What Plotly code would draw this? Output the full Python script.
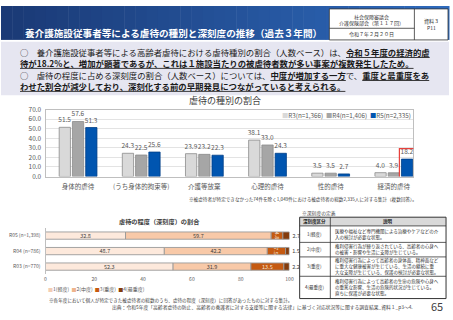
import plotly.graph_objects as go
import numpy as np

W, H = 453, 320
FONT = "Noto Sans CJK JP"

def X(p):
    return p / W

def Y(p):
    return 1 - p / H

# ---------------- data ----------------
categories = ["身体的虐待", "(うち身体的拘束等)", "介護等放棄", "心理的虐待", "性的虐待", "経済的虐待"]
series_names = ["R3(n=1,366)", "R4(n=1,406)", "R5(n=2,335)"]
r3 = [51.5, 24.3, 23.9, 38.1, 3.5, 4.0]
r4 = [57.6, 22.5, 23.2, 33.0, 3.5, 3.9]
r5 = [51.3, 25.6, 22.3, 24.3, 2.7, 18.2]

years = ["R05 (n=1,398)", "R04 (n=786)", "R03 (n=770)"]
sev_names = ["1(軽度)", "2(中度)", "3(重度)", "4(最重度)"]
sev1 = [32.8, 48.7, 52.3]
sev2 = [59.7, 42.2, 31.9]
sev3 = [4.8, 7.5, 13.5]
sev4 = [2.7, 1.5, 2.2]

sev_defs = [
    ("1(軽度)", ["医療や福祉など専門機関による治療やケアなどの介", "入の検討が必要な状態。"]),
    ("2(中度)", ["権利侵害行為が繰り返されている、高齢者の心身へ", "の被害・影響や生活に支障が生じている。"]),
    ("3(重度)", ["権利侵害行為によって高齢者の身体面、精神面など", "に重大な健康被害が生じている、生活の継続に重", "大な支障が生じている、保護の検討が必要な状態。"]),
    ("4(最重度)", ["権利侵害行為によって高齢者の生命の危険や心身へ", "の重篤な影響、生活の危険的状況が生じている。", "直ちに保護が必要な状態。"]),
]

# ---------------- styles ----------------
bar_colors = ["#d9d9d9", "#a6a6a6", "#0055b0"]
bar_lines = ["#8c8c8c", "#8c8c8c", "#003f86"]
sev_colors = ["#fde9dc", "#f8c9a8", "#c55a11", "#843c0c"]
sev_legend_colors = ["#f3cdb4", "#eeb48c", "#c55a11", "#843c0c"]
sev_text = ["#404040", "#404040", "#f6e3d6", "#404040"]
GRAY = "#595959"

fig = go.Figure()

for name, vals, c, lc in zip(series_names, [r3, r4, r5], bar_colors, bar_lines):
    fig.add_trace(go.Bar(
        x=categories, y=vals, name=name,
        marker=dict(color=c, line=dict(color=lc, width=0.8)),
        text=[f"{v:.1f}" for v in vals], textposition="outside",
        textfont=dict(size=6.5, color=GRAY, family=FONT),
        cliponaxis=False, constraintext="none",
        xaxis="x", yaxis="y", showlegend=False))

base = np.zeros(len(years))
for i, (name, vals) in enumerate(zip(sev_names, [sev1, sev2, sev3, sev4])):
    fig.add_trace(go.Bar(
        y=years, x=vals, base=base.copy(), orientation="h", name=name,
        offsetgroup="sev", width=0.47,
        marker=dict(color=sev_colors[i], line=dict(color="#9a9a9a", width=0.9)),
        text=[f"{v:.1f}" for v in vals],
        textposition="inside" if i < 3 else "outside",
        insidetextanchor="middle",
        textfont=dict(size=5.5, color=sev_text[i], family=FONT),
        cliponaxis=False, constraintext="none",
        xaxis="x2", yaxis="y2", showlegend=False))
    base = base + np.array(vals)

shapes = []
ann = []

# header gradient
n = 40
c0 = np.array([27, 58, 118])
c1 = np.array([46, 106, 188])
for k in range(n):
    t = k / (n - 1)
    c = (c0 + (c1 - c0) * t).astype(int)
    shapes.append(dict(type="rect", xref="paper", yref="paper",
                       x0=X(W * k / n), x1=X(W * (k + 1) / n + 0.5), y0=Y(35), y1=Y(0),
                       fillcolor=f"rgb({c[0]},{c[1]},{c[2]})", line=dict(width=0), layer="below"))
# lavender band
shapes.append(dict(type="rect", xref="paper", yref="paper", x0=0, x1=1, y0=Y(92), y1=Y(37),
                   fillcolor="#e6e6f1", line=dict(width=0), layer="below"))
# top right box
shapes.append(dict(type="rect", xref="paper", yref="paper", x0=X(332), x1=X(452), y0=Y(35), y1=Y(3),
                   fillcolor="white", line=dict(color="#333333", width=0.8)))
shapes.append(dict(type="line", xref="paper", yref="paper", x0=X(418), x1=X(418), y0=Y(35), y1=Y(3),
                   line=dict(color="#333333", width=0.8)))
shapes.append(dict(type="line", xref="paper", yref="paper", x0=X(332), x1=X(418), y0=Y(23), y1=Y(23),
                   line=dict(color="#333333", width=0.8)))

# table
rows = [218, 227, 244, 259, 279, 302]
cols = [302, 333, 450]
shapes.append(dict(type="rect", xref="paper", yref="paper", x0=X(cols[0]), x1=X(cols[2]),
                   y0=Y(rows[1]), y1=Y(rows[0]), fillcolor="#d9d9d9", line=dict(width=0)))
shapes.append(dict(type="rect", xref="paper", yref="paper", x0=X(cols[0]), x1=X(cols[2]),
                   y0=Y(rows[-1]), y1=Y(rows[0]), line=dict(color="#333333", width=1)))
for r in rows[1:-1]:
    shapes.append(dict(type="line", xref="paper", yref="paper", x0=X(cols[0]), x1=X(cols[2]),
                       y0=Y(r), y1=Y(r), line=dict(color="#333333", width=0.8)))
shapes.append(dict(type="line", xref="paper", yref="paper", x0=X(cols[1]), x1=X(cols[1]),
                   y0=Y(rows[-1]), y1=Y(rows[0]), line=dict(color="#333333", width=0.8)))

# red highlight box around R5 経済的虐待 (data coords)
bargap, bargroupgap = 0.37, 0.15
slot = (1 - bargap) / 3
ci = categories.index("経済的虐待")
cx = ci + slot
hw = slot * 0.58
shapes.append(dict(type="rect", xref="x", yref="y", x0=cx - hw, x1=cx + hw,
                   y0=-2, y1=r5[ci] + 11, line=dict(color="#e8413c", width=1.2)))

def A(x, y, text, size, color="#222222", xanchor="center", bold=False, **kw):
    if bold:
        text = f"<b>{text}</b>"
    ann.append(dict(x=X(x), y=Y(y), xref="paper", yref="paper", text=text, showarrow=False,
                    xanchor=xanchor, yanchor="middle",
                    font=dict(size=size, color=color, family=FONT), **kw))

# header texts
A(22, 28, "養介護施設従事者等による虐待の種別と深刻度の推移（過去３年間）", 9.6, "white", "left", bold=True)
A(375, 11.5, "社会保障審議会", 5, "#333333")
A(375, 17.5, "介護保険部会（第１１７回）", 5, "#333333")
A(375, 29, "令和７年２月２０日", 5, "#333333")
A(435, 15.5, "資料３", 5, "#333333")
A(435, 22, "P11", 5, "#333333")

# body text (two paragraphs, two lines each)
BS = 8.4
para1 = ("○　養介護施設従事者等による高齢者虐待における虐待種別の割合（人数ベース）は、<b><u>令和５年度の経済的虐</u></b><br>"
         "<b><u>待が18.2%と、増加が顕著であるが、これは１施設当たりの被虐待者数が多い事案が複数発生したため。</u></b>")
para2 = ("○　虐待の程度に占める深刻度の割合（人数ベース）については、<b><u>中度が増加する一方</u></b>で、<b><u>重度と最重度をあ</u></b><br>"
         "<b><u>わせた割合が減少しており、深刻化する前の早期発見につながっていると考えられる。</u></b>")
A(17, 53.5, para1, BS, "#1a1a1a", "left", align="left")
A(17, 76.5, para2, BS, "#1a1a1a", "left", align="left")

# chart 1 title / legend / note
A(226, 98, "虐待の種別の割合", 9, "#404040")
leg1 = "  ".join(f"<span style='color:{c}'>■</span>{nm}" for nm, c in zip(series_names, bar_colors))
A(417, 113, leg1, 6.3, GRAY, "right")
A(188, 200, "※被虐待者が特定できなかった74件を除く1,049件における被虐待者の総数2,335人に対する集計（複数回答）。", 4.6, "#404040", "left")

# chart 2 title / legend / notes
A(160, 222, "虐待の程度（深刻度）の割合", 6.2, "#404040", bold=True)
leg2 = "  ".join(f"<span style='color:{c}'>■</span>{nm}" for nm, c in zip(sev_names, sev_legend_colors))
A(45, 292, leg2, 5, GRAY, "left")
A(47, 304, "※各年度において個人が特定できた被虐待者の総数のうち、虐待の程度（深刻度）に回答があったものに対する集計。", 4.6, "#404040", "left")
A(110, 311, "出典：令和5年度「高齢者虐待の防止、高齢者の養護者に対する支援等に関する法律」に基づく対応状況等に関する調査結果_資料１_p3～4.", 4.8, "#404040", "left")
A(441, 310, "65", 11, "#404040")

# table texts
A(302, 214, "※深刻度の定義", 4.8, "#404040", "left")
A((cols[0] + cols[1]) / 2, (rows[0] + rows[1]) / 2, "深刻度区分", 4.5, "#222222", bold=True)
A((cols[1] + cols[2]) / 2, (rows[0] + rows[1]) / 2, "説明", 4.5, "#222222", bold=True)
for i, (lab, lines) in enumerate(sev_defs):
    yc = (rows[i + 1] + rows[i + 2]) / 2
    A((cols[0] + cols[1]) / 2, yc, lab, 4.5, "#333333")
    A(cols[1] + 3, yc, "<br>".join(lines), 4.5, "#333333", "left", align="left")

fig.update_layout(
    width=W, height=H, margin=dict(l=0, r=0, t=0, b=0),
    paper_bgcolor="white", plot_bgcolor="white",
    barmode="group", bargap=bargap, bargroupgap=bargroupgap,
    showlegend=False, font=dict(family=FONT, color=GRAY),
    shapes=shapes, annotations=ann,
    xaxis=dict(domain=[X(46), X(417)], anchor="y", type="category",
               range=[-0.5, 5.31], showline=True, mirror=True, linecolor="#bfbfbf",
               linewidth=1, ticks="", tickfont=dict(size=6.5, color=GRAY),
               ticklabelstandoff=4, showgrid=False, fixedrange=True),
    yaxis=dict(domain=[Y(176), Y(107)], anchor="x", range=[0, 70], dtick=10,
               tickformat=".1f", gridcolor="#e3e3e3", showline=True, mirror=True,
               linecolor="#bfbfbf", linewidth=1, zeroline=False, ticks="",
               tickfont=dict(size=6.5, color=GRAY), ticklabelstandoff=3),
    xaxis2=dict(domain=[X(45), X(291.7)], anchor="y2", range=[0, 100],
                tickvals=[0, 20, 40, 60, 80, 100], ticksuffix="%", showgrid=False,
                zeroline=False, showline=False, ticks="",
                tickfont=dict(size=5, color=GRAY), ticklabelstandoff=1),
    yaxis2=dict(domain=[Y(277), Y(229)], anchor="x2", type="category",
                categoryorder="array", categoryarray=years[::-1], range=[-0.5, 2.5],
                showline=True, linecolor="#bfbfbf", ticks="", showgrid=False,
                tickfont=dict(size=5, color=GRAY), ticklabelstandoff=3),
)

fig.write_html("out.html")
